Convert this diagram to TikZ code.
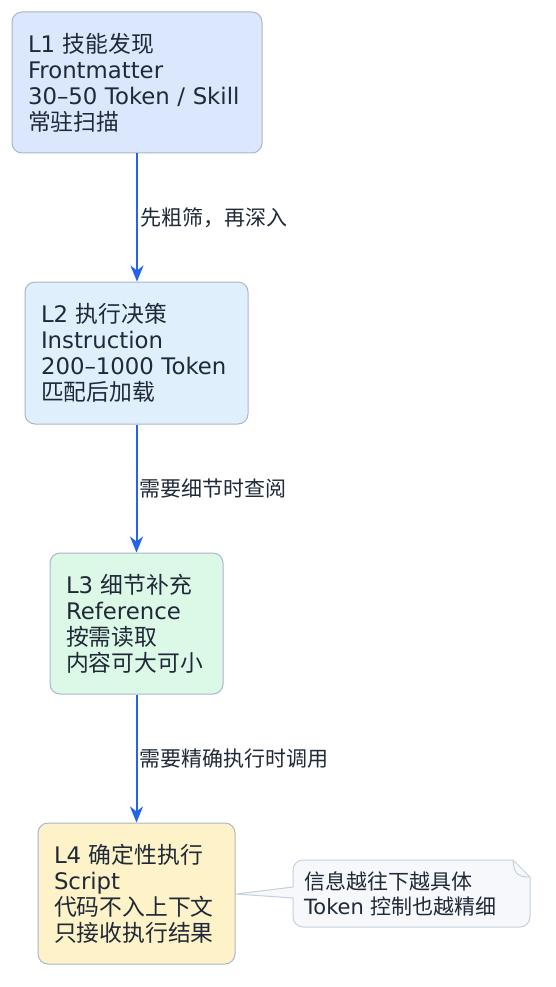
\documentclass[tikz,border=0pt]{standalone}
\usepackage{fontspec}
\setmainfont{DejaVu Sans}
\newfontfamily\cjk{Noto Sans CJK SC}
\newcommand\zh[1]{{\cjk #1}}
\usetikzlibrary{arrows.meta}
\definecolor{ink}{HTML}{1F2937}
\definecolor{boxline}{HTML}{A9B7C9}
\definecolor{cone}{HTML}{DBE7FD}
\definecolor{ctwo}{HTML}{DFF0FC}
\definecolor{cthree}{HTML}{DCF8E7}
\definecolor{cfour}{HTML}{FEF2C8}
\definecolor{arrowblue}{HTML}{2563EB}
\definecolor{notefill}{HTML}{F6F8FB}
\definecolor{noteline}{HTML}{C5D0DE}
\newcommand\boxfont{\fontsize{22.8}{26}\selectfont}
\newcommand\labfont{\fontsize{21}{25}\selectfont}
\begin{document}
\begin{tikzpicture}[x=1pt,y=-1pt,
  box/.style={draw=boxline, line width=1pt, rounded corners=10pt, inner xsep=16pt, inner ysep=0pt,
    align=left, text=ink, font=\boxfont},
  arr/.style={draw=arrowblue, line width=2pt, -{Stealth[length=16pt,width=13pt,inset=5pt]}},
  lab/.style={anchor=west, inner xsep=2pt, inner ysep=0pt, font=\labfont, text=ink},
  notebox/.style={draw=noteline, fill=notefill, line width=1pt, line join=round}]
\useasboundingbox (0,0) rectangle (555,987);
\fill[white] (0,0) rectangle (555,987);

\node[box, fill=cone, minimum width=250pt, text width=218pt, minimum height=141pt] (l1) at (137,82.5)
  {L1 \zh{技能发现}\\Frontmatter\\30–50 Token / Skill\\\zh{常驻扫描}};
\node[box, fill=ctwo, minimum width=223pt, text width=191pt, minimum height=142pt] (l2) at (136.5,353)
  {L2 \zh{执行决策}\\Instruction\\200–1000 Token\\\zh{匹配后加载}};
\node[box, fill=cthree, minimum width=173pt, text width=141pt, minimum height=141pt] (l3) at (136.5,623.5)
  {L3 \zh{细节补充}\\Reference\\\zh{按需读取}\\\zh{内容可大可小}};
\node[box, fill=cfour, minimum width=197pt, text width=165pt, minimum height=141pt] (l4) at (136.5,893.5)
  {L4 \zh{确定性执行}\\Script\\\zh{代码不入上下文}\\\zh{只接收执行结果}};

\draw[arr] (l1.south) -- node[lab] {\zh{先粗筛，再深入}} (l1.south |- l2.north);
\draw[arr] (l2.south) -- node[lab] {\zh{需要细节时查阅}} (l2.south |- l3.north);
\draw[arr] (l3.south) -- node[lab] {\zh{需要精确执行时调用}} (l3.south |- l4.north);

\coordinate (tip) at (236,894);
\draw[notebox] (293,887) -- (293,870) arc[start angle=180,end angle=270,radius=10] -- (513,860) -- (530,877)
  -- (530,917) arc[start angle=0,end angle=90,radius=10] -- (303,927) arc[start angle=90,end angle=180,radius=10]
  -- (293,898) -- (tip) -- cycle;
\draw[noteline, line width=1pt] (513,860) .. controls (514,872) and (516,877) .. (530,877);
\node[anchor=west, inner sep=0pt, align=left, text=ink, font=\labfont] (note) at (304,894)
  {\zh{信息越往下越具体}\\Token \zh{控制也越精细}};
\end{tikzpicture}
\end{document}
